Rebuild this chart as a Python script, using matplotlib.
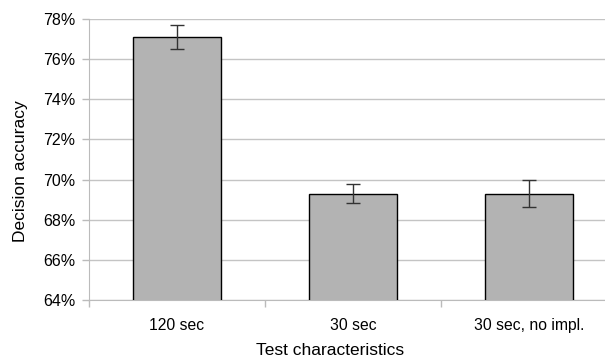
import matplotlib
matplotlib.use("Agg")
import matplotlib.pyplot as plt
from matplotlib.ticker import FuncFormatter, FixedLocator

plt.rcParams['font.family'] = ['Liberation Sans', 'DejaVu Sans']

categories = ["120 sec", "30 sec", "30 sec, no impl."]
accuracy = [77.1, 69.3, 69.3]
error = [0.6, 0.46, 0.66]
yticks = [64, 66, 68, 70, 72, 74, 76, 78]

W, H = 605, 360
fig = plt.figure(figsize=(W / 100, H / 100), dpi=100)
left, right, top, bottom = 89, 617, 19, 300
ax = fig.add_axes([left / W, 1 - bottom / H, (right - left) / W, (bottom - top) / H])

x = list(range(len(categories)))
ax.bar(x, accuracy, width=0.5, color="#b3b3b3", edgecolor="black", linewidth=1.0,
       zorder=3)
ax.errorbar(x, accuracy, yerr=error, fmt="none", ecolor="#333333", elinewidth=1.0,
            capsize=5, capthick=1.0, zorder=4)

ax.set_xlim(-0.5, len(categories) - 0.5)
ax.set_ylim(64, 78)
ax.yaxis.set_major_locator(FixedLocator(yticks))
ax.yaxis.set_major_formatter(FuncFormatter(lambda v, p: f"{v:.0f}%"))
ax.grid(axis="y", color="#c4c4c4", linewidth=1.0, zorder=0)

ax.set_xticks(x)
ax.set_xticklabels(categories, fontsize=11.3)
ax.xaxis.set_minor_locator(FixedLocator([-0.5, 0.5, 1.5, 2.5]))
ax.tick_params(axis="x", which="major", length=0, pad=13)
ax.tick_params(axis="x", which="minor", length=5, color="#bbbbbb", width=1.0)
ax.tick_params(axis="y", length=5, color="#bbbbbb", width=1.0, labelsize=11.5, pad=5)

for s in ["top", "right"]:
    ax.spines[s].set_visible(False)
ax.spines["left"].set_color("#bbbbbb")
ax.spines["bottom"].set_color("#bbbbbb")

ax.set_xlabel("Test characteristics", fontsize=12.5)
ax.set_ylabel("Decision accuracy", fontsize=12.5)
ax.xaxis.set_label_coords((330 - left) / (right - left), (bottom - 343) / (bottom - top))
ax.yaxis.set_label_coords((28 - left) / (right - left), (bottom - 171.5) / (bottom - top))

fig.savefig("out.png", dpi=100)
